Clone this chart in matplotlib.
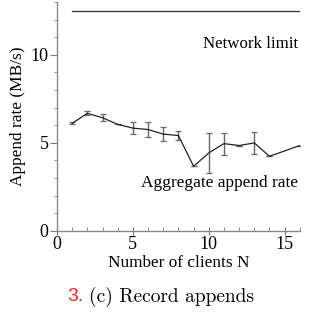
import matplotlib
matplotlib.use("Agg")
from matplotlib import pyplot as plt
from matplotlib.ticker import MultipleLocator

# aggregate record-append rate vs number of clients
clients = [1, 2, 3, 4, 5, 6, 7, 8, 9, 10, 11, 12, 13, 14, 16]
rate = [6.1, 6.67, 6.42, 6.04, 5.83, 5.75, 5.49, 5.41, 3.66, 4.42, 4.95, 4.84, 4.99, 4.23, 4.84]
err = [0.05, 0.11, 0.2, 0.0, 0.32, 0.4, 0.4, 0.25, 0.0, 1.12, 0.63, 0.0, 0.63, 0.0, 0.0]
limit_x = [1, 16]
limit_y = [12.5, 12.5]

plt.rcParams['font.family'] = ['Liberation Serif', 'DejaVu Serif']

fig = plt.figure(figsize=(3.13, 3.20), dpi=100)
ax = fig.add_axes([0.182, 0.279, 0.776, 0.715])

ax.plot(limit_x, limit_y, color='#333333', lw=0.9)
ax.errorbar(clients, rate, yerr=err, color='#222222', ecolor='#666666',
            lw=0.9, elinewidth=1.0, capsize=2.2, capthick=0.9)

ax.text(15.9, 10.6, 'Network limit', ha='right', va='center', fontsize=12.2)
ax.text(15.85, 2.73, 'Aggregate append rate', ha='right', va='center', fontsize=12.4)

ax.set_xlim(0, 16)
ax.set_ylim(0, 13)
ax.xaxis.set_major_locator(MultipleLocator(5))
ax.xaxis.set_minor_locator(MultipleLocator(1))
ax.yaxis.set_major_locator(MultipleLocator(5))
ax.yaxis.set_minor_locator(MultipleLocator(1))

for s in ['top', 'right']:
    ax.spines[s].set_visible(False)
for s in ['left', 'bottom']:
    ax.spines[s].set_color('#888888')
    ax.spines[s].set_linewidth(1.0)

ax.tick_params(axis='x', which='major', direction='inout', length=6, color='#777777',
               labelsize=13, pad=1)
ax.tick_params(axis='x', which='minor', direction='in', length=3, color='#777777')
ax.tick_params(axis='y', which='major', direction='out', length=5, color='#777777',
               labelsize=13, pad=1)
ax.tick_params(axis='y', which='minor', direction='out', length=2.5, color='#777777')

ax.set_xlabel('Number of clients N', fontsize=12.4, labelpad=1)
ax.set_ylabel('Append rate (MB/s)', fontsize=12.4, labelpad=3)

fig.text(0.24, 0.072, '3.', color='#ff2020', fontsize=14, family='Liberation Sans',
         ha='center', va='center')
fig.text(0.548, 0.072, '(c) Record appends', fontsize=14, family=['cmr10', 'DejaVu Serif'],
         ha='center', va='center')

fig.savefig('out.png', dpi=100)
